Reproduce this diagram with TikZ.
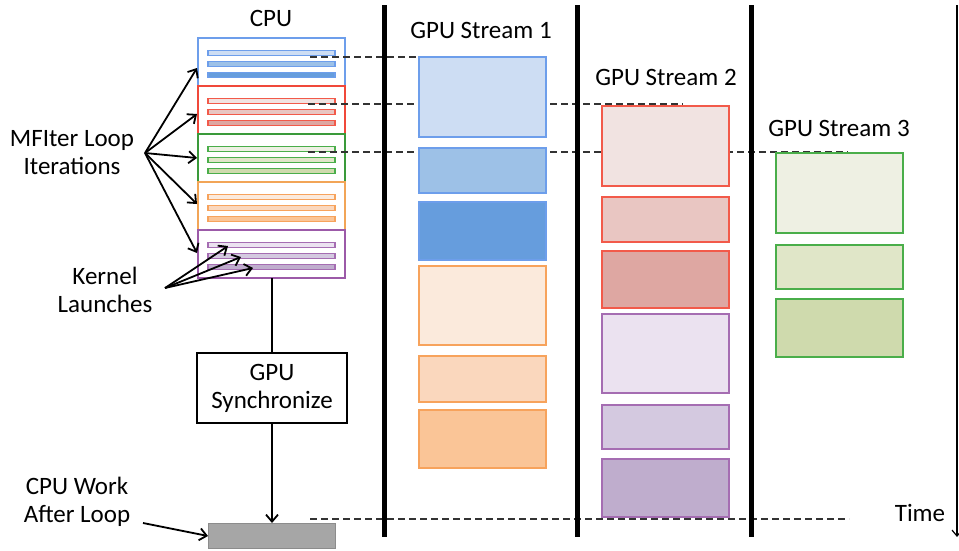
\documentclass[tikz,border=0pt]{standalone}
\usepackage{fontspec}
\setmainfont{Carlito}
\usetikzlibrary{arrows.meta}
\definecolor{bl}{HTML}{6D9EEB}\definecolor{bA}{HTML}{CDDDF3}\definecolor{bB}{HTML}{9DC1E7}\definecolor{bC}{HTML}{669DDD}
\definecolor{rl}{HTML}{F25A4A}\definecolor{rA}{HTML}{F1E3E1}\definecolor{rB}{HTML}{E9C6C2}\definecolor{rC}{HTML}{DEA7A2}
\definecolor{gl}{HTML}{4AAE4A}\definecolor{gA}{HTML}{EEF0E3}\definecolor{gB}{HTML}{E0E6C8}\definecolor{gC}{HTML}{CFDAAD}
\definecolor{ol}{HTML}{F7A35C}\definecolor{oA}{HTML}{FBEADC}\definecolor{oB}{HTML}{FAD7BD}\definecolor{oC}{HTML}{FAC597}
\definecolor{pl}{HTML}{A56DB2}\definecolor{pA}{HTML}{EBE2F0}\definecolor{pB}{HTML}{D4C9E0}\definecolor{pC}{HTML}{BFADCD}
\definecolor{cbl}{HTML}{6D9EEB}\definecolor{crl}{HTML}{F0483A}\definecolor{cgl}{HTML}{3A9A3A}\definecolor{col}{HTML}{F2A557}\definecolor{cpl}{HTML}{9C5AA8}
\begin{document}
\begin{tikzpicture}[x=1pt,y=-1pt,
  txt/.style={font=\fontsize{25}{28}\selectfont, inner sep=0pt, align=center},
  kbox/.style={anchor=north west, minimum width=127pt, inner sep=0pt, outer sep=0pt, line width=1.2pt},
  cbox/.style={anchor=north west, minimum width=147pt, minimum height=48pt, inner sep=0pt, outer sep=0pt, line width=1.2pt, draw},
  bar/.style={anchor=west, minimum width=127pt, minimum height=5.5pt, inner sep=0pt, outer sep=0pt, line width=1.2pt},
  dashln/.style={dash pattern=on 7pt off 4pt, line width=1.1pt, black!80},
  vline/.style={line width=5pt, black},
  arr/.style={line width=1.8pt, -{Straight Barb[length=7pt,width=12pt,line width=1.8pt]}}
]
\useasboundingbox (0,0) rectangle (959,550);
% CPU iteration boxes
\node[cbox, draw=cbl] (cb) at (198,38) {};
\node[cbox, draw=crl] (cr) at (198,86) {};
\node[cbox, draw=cgl] (cg) at (198,134) {};
\node[cbox, draw=col] (co) at (198,182) {};
\node[cbox, draw=cpl] (cp) at (198,230) {};
% bars
\foreach \n/\y/\c in {b/38/b, r/86/r, g/134/g, o/182/o, p/230/p}{
  \node[bar, draw=\c l, fill=\c A] (\n1) at (208,\y+15) {};
  \node[bar, draw=\c l, fill=\c B] (\n2) at (208,\y+26) {};
  \node[bar, draw=\c l, fill=\c C] (\n3) at (208,\y+37) {};
}
% dashed lines
\coordinate (d1s) at (310,57); \coordinate (d1e) at (528,57);
\coordinate (d2s) at (308,104); \coordinate (d2e) at (683,104);
\coordinate (d3s) at (308,152); \coordinate (d3e) at (848,152);
\coordinate (d4s) at (310,519); \coordinate (d4e) at (849,519);
\draw[dashln] (d1s) -- (d1e);
\draw[dashln] (d2s) -- (d2e);
\draw[dashln] (d3s) -- (d3e);
\draw[dashln] (d4s) -- (d4e);
% GPU stream 1
\node[kbox, draw=bl, fill=bA, minimum height=80pt] (s1a) at (419,57) {};
\node[kbox, draw=bl, fill=bB, minimum height=45pt] (s1b) at (419,148) {};
\node[kbox, draw=bl, fill=bC, minimum height=58pt] (s1c) at (419,202) {};
\node[kbox, draw=ol, fill=oA, minimum height=79pt] (s1d) at (419,266) {};
\node[kbox, draw=ol, fill=oB, minimum height=46pt] (s1e) at (419,356) {};
\node[kbox, draw=ol, fill=oC, minimum height=58pt] (s1f) at (419,410) {};
% GPU stream 2
\node[kbox, draw=rl, fill=rA, minimum height=80pt] (s2a) at (602,106) {};
\node[kbox, draw=rl, fill=rB, minimum height=45pt] (s2b) at (602,197) {};
\node[kbox, draw=rl, fill=rC, minimum height=57pt] (s2c) at (602,251) {};
\node[kbox, draw=pl, fill=pA, minimum height=79pt] (s2d) at (602,314) {};
\node[kbox, draw=pl, fill=pB, minimum height=44pt] (s2e) at (602,405) {};
\node[kbox, draw=pl, fill=pC, minimum height=58pt] (s2f) at (602,459) {};
% GPU stream 3
\node[kbox, draw=gl, fill=gA, minimum height=80pt] (s3a) at (776,153) {};
\node[kbox, draw=gl, fill=gB, minimum height=44pt] (s3b) at (776,245) {};
\node[kbox, draw=gl, fill=gC, minimum height=58pt] (s3c) at (776,299) {};
% separators
\coordinate (v1t) at (384,5); \coordinate (v1b) at (384,537);
\coordinate (v2t) at (577,5); \coordinate (v2b) at (577,537);
\coordinate (v3t) at (751,5); \coordinate (v3b) at (751,537);
\draw[vline] (v1t) -- (v1b);
\draw[vline] (v2t) -- (v2b);
\draw[vline] (v3t) -- (v3b);
% time axis
\coordinate (tt) at (957,5); \coordinate (tb) at (957,537);
\draw[line width=1.2pt, -{Straight Barb[length=6pt,width=10pt,line width=1.2pt]}] (tt) -- (tb);
\node[txt] (time) at (920,513) {Time};
% titles
\node[txt] (cpu) at (271,18) {CPU};
\node[txt] (gs1) at (481,30) {GPU Stream 1};
\node[txt] (gs2) at (666,77) {GPU Stream 2};
\node[txt] (gs3) at (839,128) {GPU Stream 3};
% MFIter label and arrows
\node[txt] (mf) at (72,153) {MFIter Loop\\Iterations};
\coordinate (mfo) at (145,153);
\draw[arr] (mfo) -- (197,68);
\draw[arr] (mfo) -- (197,114);
\draw[arr] (mfo) -- (197,158);
\draw[arr] (mfo) -- (197,204);
\draw[arr] (mfo) -- (197,253);
% Kernel launches
\node[txt] (kl) at (105,290) {Kernel\\Launches};
\coordinate (klo) at (165,288);
\draw[arr] (klo) -- (228,246);
\draw[arr] (klo) -- (241,257);
\draw[arr] (klo) -- (253,268);
% synchronize
\node[draw, line width=1.2pt, minimum width=150pt, minimum height=70pt, inner sep=0pt, txt] (sync) at (272,388) {GPU\\Synchronize};
\node[draw=black!45, fill=black!35, line width=1pt, anchor=north west, minimum width=127pt, minimum height=25pt, inner sep=0pt] (after) at (208,523) {};
\draw[line width=2.5pt] (cp.south -| sync.north) -- (sync.north);
\draw[arr, line width=2.5pt] (sync.south) -- (sync.south |- after.north);
% CPU work after loop
\node[txt] (cw) at (77,502) {CPU Work\\After Loop};
\coordinate (cwo) at (143,523);
\draw[arr] (cwo) -- (after.west);
\end{tikzpicture}
\end{document}
